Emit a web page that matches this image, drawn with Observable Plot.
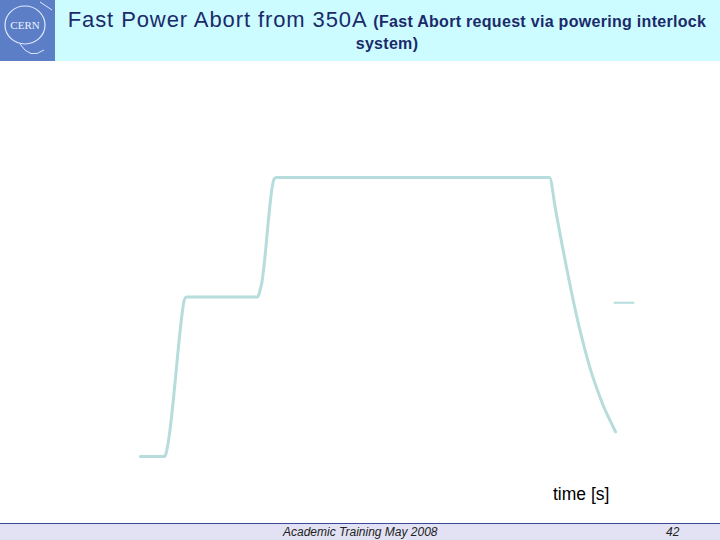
<!DOCTYPE html>
<html><head><meta charset="utf-8">
<script src="https://cdn.jsdelivr.net/npm/d3@7"></script>
<script src="https://cdn.jsdelivr.net/npm/@observablehq/plot@0.6"></script>
<style>
body{margin:0;background:#fff;font-family:Arial,"Liberation Sans",sans-serif;}
#page{position:relative;width:720px;height:540px;overflow:hidden;}
#hdr{position:absolute;left:0;top:0;width:720px;height:61px;background:#ccfcff;}
#logo{position:absolute;left:0;top:0;width:55px;height:61px;background:#5b7ec6;}
#title{position:absolute;left:62px;top:9px;width:650px;text-align:center;color:#1b2a6b;line-height:22px;}
#title .big{font-size:22px;letter-spacing:0.9px;}
#title .small{font-size:16px;font-weight:bold;letter-spacing:0.3px;}
#xlab{position:absolute;left:553px;top:484px;font-size:17.5px;color:#000;}
#ftline{position:absolute;left:0;top:523px;width:720px;height:1px;background:#3a4a9a;}
#ft{position:absolute;left:0;top:524px;width:720px;height:16px;background:#e2e2f4;font-style:italic;font-size:12px;color:#222;}
#ft .c{position:absolute;left:283px;top:1px;}
#ft .n{position:absolute;left:666px;top:1px;}
#chart{position:absolute;left:0;top:0;}
</style></head>
<body><div id="page">
<div id="chart"></div>
<div id="hdr">
 <div id="logo"><svg width="55" height="61"><ellipse cx="25" cy="25" rx="20" ry="19" fill="none" stroke="#dfe8ff" stroke-width="1.2"/><text x="25" y="29" text-anchor="middle" font-size="11" fill="#eef3ff" font-family="Times New Roman,serif">CERN</text><path d="M20 44 Q30 60 44 50 M40 2 L52 10" stroke="#dfe8ff" fill="none"/></svg></div>
 <div id="title"><span class="big">Fast Power Abort from 350A </span><span class="small">(Fast Abort request via powering interlock system)</span></div>
</div>
<div id="xlab">time [s]</div>
<div id="ftline"></div>
<div id="ft"><span class="c">Academic Training May 2008</span><span class="n">42</span></div>
</div>
<script>
// Current trace: time [s], current [A]
const timeS    = [0, 24, 25, 26, 28, 42, 43, 44, 46, 117, 118, 119, 121, 132, 133, 134, 136, 409, 415, 420, 426, 432, 438, 444, 450, 457, 463, 470, 475];
const currentA = [0, 0, 2, 6, 20, 183, 192, 197, 200, 200, 202, 206, 216, 340, 346, 349, 350, 350, 310, 276, 237, 200, 166, 136, 109, 83, 63, 44, 31];
// Short separate segment near the end
const segTime = [474, 493];
const segCurrent = [193, 193];

const trace = timeS.map((t, i) => ({t, a: currentA[i]}));
const seg = segTime.map((t, i) => ({t, a: segCurrent[i]}));

const chart = Plot.plot({
  width: 720, height: 540,
  marginLeft: 140, marginRight: 80, marginTop: 177, marginBottom: 84,
  x: {domain: [0, 500], axis: null},
  y: {domain: [0, 350], axis: null},
  marks: [
    Plot.line(trace, {x: "t", y: "a", stroke: "#b6dcdc", strokeWidth: 3, curve: "monotone-x", strokeLinejoin: "round"}),
    Plot.line(seg, {x: "t", y: "a", stroke: "#b6dcdc", strokeWidth: 2})
  ]
});
document.getElementById("chart").appendChild(chart);
</script>
</body></html>
